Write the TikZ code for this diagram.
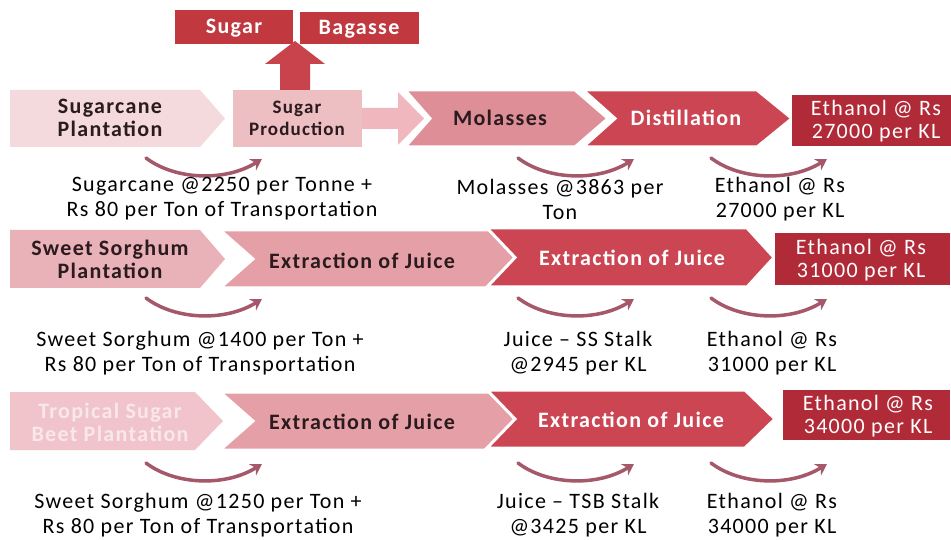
\documentclass[tikz,border=0pt]{standalone}
\usepackage{fontspec}
\setmainfont{Carlito}[LetterSpace=6]
\usetikzlibrary{arrows.meta}
\definecolor{plantA}{HTML}{F4DADC}
\definecolor{plantB}{HTML}{E9B2B8}
\definecolor{plantC}{HTML}{F0C4CA}
\definecolor{spbox}{HTML}{EDBEC2}
\definecolor{lightarr}{HTML}{F0B8BE}
\definecolor{molas}{HTML}{DD8E96}
\definecolor{lightext}{HTML}{E5A0A7}
\definecolor{redchev}{HTML}{CC4553}
\definecolor{ethbox}{HTML}{B02A38}
\definecolor{sugbox}{HTML}{C1383F}
\definecolor{uparr}{HTML}{C9434C}
\definecolor{curvc}{HTML}{A5586A}
\definecolor{darktxt}{HTML}{2B1B1E}
\definecolor{fadetxt}{HTML}{F8E8EA}
\newcommand{\chevr}[7]{\filldraw[#1] (#2,#4) -- (#3,#4) -- ({#3+#6},{(#4+#5)/2}) -- (#3,#5) -- (#2,#5) -- ({#2+#7},{(#4+#5)/2}) -- cycle;}
\newcommand{\swoosh}[2]{\draw[curv] (#1) .. controls +(29,22) and +(-37,23) .. (#2);}
\tikzset{
  sep/.style={draw=white, line width=3bp, line join=miter},
  nosep/.style={draw=none},
  boxtxt/.style={align=center, font=\bfseries\fontsize{22bp}{23bp}\selectfont, text=darktxt, inner sep=0pt},
  wbox/.style={boxtxt, text=white},
  ethtxt/.style={align=center, font=\fontsize{22bp}{23bp}\selectfont, text=white, inner sep=0pt},
  lbl/.style={align=center, font=\fontsize{22bp}{25bp}\selectfont, text=black, inner sep=0pt},
  curv/.style={draw=curvc, line width=3.5bp, line cap=round, -{Stealth[length=11bp,width=13bp]}},
}
\begin{document}
\begin{tikzpicture}[x=1bp,y=-1bp]
\useasboundingbox (0,0) rectangle (951,540);
% ---------- Row 1 ----------
\fill[sugbox] (175,10) rectangle (293,44);
\node[wbox] (sugar) at (234,28) {Sugar};
\fill[sugbox] (300,12) rectangle (419,44);
\node[wbox] (bagasse) at (359,29) {Bagasse};
\fill[uparr] (280,90) -- (280,64) -- (265,64) -- (295,41) -- (325,64) -- (310,64) -- (310,90) -- cycle;
\chevr{fill=plantA, nosep}{10}{200}{90}{147}{25}{0}
\node[boxtxt] (scp) at (110,118) {Sugarcane\\Plantation};
\fill[spbox] (233,90) rectangle (362,147);
\node[boxtxt, font=\bfseries\fontsize{19bp}{22bp}\selectfont] (sp) at (297,118) {Sugar\\Production};
\fill[lightarr] (362,108) -- (398,108) -- (398,92) -- (424,118.5) -- (398,145) -- (398,129) -- (362,129) -- cycle;
\chevr{fill=molas, sep}{405}{575}{90}{147}{33}{25}
\node[boxtxt] (mol) at (500,118) {Molasses};
\chevr{fill=redchev, sep}{583}{757}{90}{147}{35}{32}
\node[wbox] (dist) at (686,118) {Distillation};
\fill[ethbox] (792,95) rectangle (951,146);
\node[ethtxt] (eth1) at (876,121) {Ethanol @ Rs\\27000 per KL};
\coordinate (a1s) at (146,158); \coordinate (a1e) at (262,159);
\coordinate (a2s) at (518,158); \coordinate (a2e) at (634,159);
\coordinate (a3s) at (711,158); \coordinate (a3e) at (827,159);
\swoosh{a1s}{a1e}\swoosh{a2s}{a2e}\swoosh{a3s}{a3e}
\node[lbl] (l11) at (222,199) {Sugarcane @2250 per Tonne +\\Rs 80 per Ton of Transportation};
\node[lbl] (l12) at (560,199) {Molasses @3863 per\\Ton};
\node[lbl] (l13) at (780,199) {Ethanol @ Rs\\27000 per KL};
% ---------- Row 2 ----------
\chevr{fill=plantB, nosep}{10}{200}{230}{288}{25}{0}
\node[boxtxt] (ssp) at (110,259) {Sweet Sorghum\\Plantation};
\chevr{fill=lightext, sep}{220}{490}{230}{288}{30}{33}
\node[boxtxt] (ex21) at (362,261) {Extraction of Juice};
\chevr{fill=redchev, sep}{487}{747}{228}{287}{27}{28}
\node[wbox] (ex22) at (632,258) {Extraction of Juice};
\fill[ethbox] (775,233) rectangle (950,285);
\node[ethtxt] (eth2) at (861,260) {Ethanol @ Rs\\31000 per KL};
\coordinate (b1s) at (146,298); \coordinate (b1e) at (262,299);
\coordinate (b2s) at (518,298); \coordinate (b2e) at (634,299);
\coordinate (b3s) at (711,298); \coordinate (b3e) at (827,299);
\swoosh{b1s}{b1e}\swoosh{b2s}{b2e}\swoosh{b3s}{b3e}
\node[lbl] (l21) at (200,353) {Sweet Sorghum @1400 per Ton +\\Rs 80 per Ton of Transportation};
\node[lbl] (l22) at (578,353) {Juice -- SS Stalk\\@2945 per KL};
\node[lbl] (l23) at (772,353) {Ethanol @ Rs\\31000 per KL};
% ---------- Row 3 ----------
\chevr{fill=plantC, nosep}{10}{195}{392}{450}{28}{0}
\node[boxtxt, text=fadetxt] (tsb) at (110,422) {Tropical Sugar\\Beet Plantation};
\chevr{fill=lightext, sep}{220}{490}{392}{450}{30}{33}
\node[boxtxt] (ex31) at (362,422) {Extraction of Juice};
\chevr{fill=redchev, sep}{487}{745}{390}{448}{30}{28}
\node[wbox] (ex32) at (631,420) {Extraction of Juice};
\fill[ethbox] (783,390) rectangle (950,440);
\node[ethtxt] (eth3) at (868,416) {Ethanol @ Rs\\34000 per KL};
\coordinate (c1s) at (146,463); \coordinate (c1e) at (262,464);
\coordinate (c2s) at (518,463); \coordinate (c2e) at (634,464);
\coordinate (c3s) at (711,463); \coordinate (c3e) at (827,464);
\swoosh{c1s}{c1e}\swoosh{c2s}{c2e}\swoosh{c3s}{c3e}
\node[lbl] (l31) at (198,515) {Sweet Sorghum @1250 per Ton +\\Rs 80 per Ton of Transportation};
\node[lbl] (l32) at (578,515) {Juice -- TSB Stalk\\@3425 per KL};
\node[lbl] (l33) at (772,515) {Ethanol @ Rs\\34000 per KL};
\end{tikzpicture}
\end{document}
